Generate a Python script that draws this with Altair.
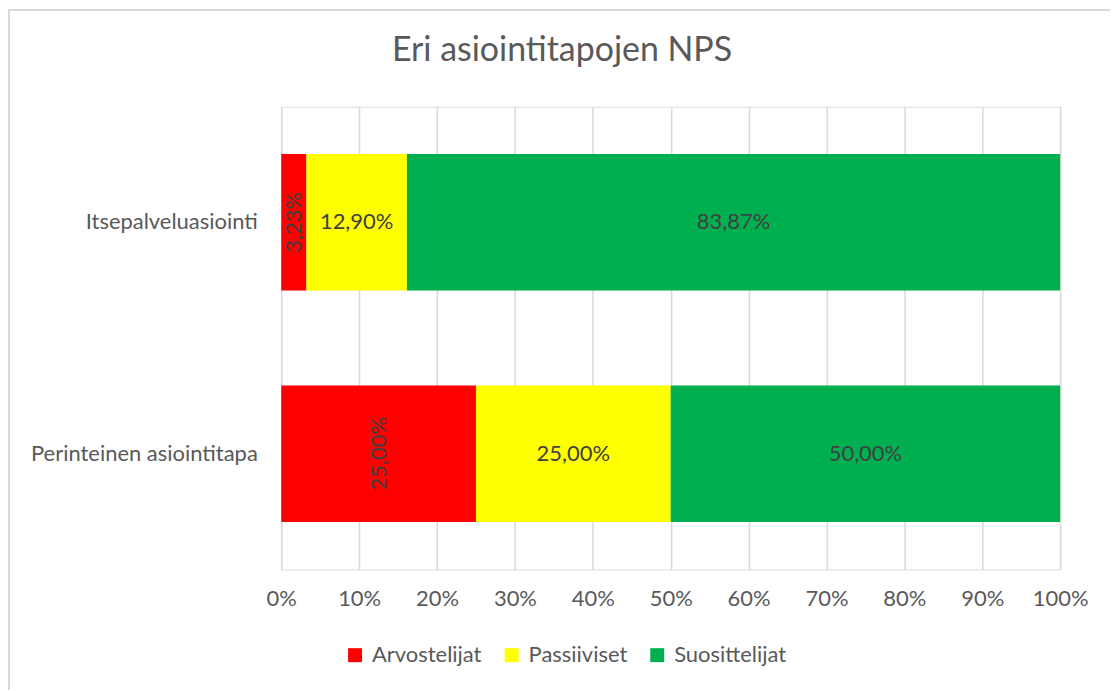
import altair as alt
import pandas as pd

categories = ["Itsepalveluasiointi", "Itsepalveluasiointi", "Itsepalveluasiointi",
              "Perinteinen asiointitapa", "Perinteinen asiointitapa", "Perinteinen asiointitapa"]
groups = ["Arvostelijat", "Passiiviset", "Suosittelijat",
          "Arvostelijat", "Passiiviset", "Suosittelijat"]
values = [3.23, 12.90, 83.87, 25.00, 25.00, 50.00]
order_idx = [0, 1, 2, 0, 1, 2]

group_names = ["Arvostelijat", "Passiiviset", "Suosittelijat"]
group_colors = ["#FF0000", "#FFFF00", "#00B050"]
cat_order = ["Itsepalveluasiointi", "Perinteinen asiointitapa"]

df = pd.DataFrame({"cat": categories, "grp": groups, "v": values, "o": order_idx})

FONT = "Lato"
GREY = "#595959"
FS = 22

base = alt.Chart(df).transform_window(
    cum="sum(v)", groupby=["cat"], sort=[alt.SortField("o")]
).transform_calculate(
    start="datum.cum - datum.v",
    mid="datum.cum - datum.v/2",
    lab="replace(format(datum.v, '.2f'), '.', ',') + '%'",
)

yenc = alt.Y("cat:N", sort=cat_order, title=None,
             scale=alt.Scale(paddingInner=0.41, paddingOuter=0.205),
             axis=alt.Axis(ticks=False, domain=False, labelFont=FONT, labelFontSize=FS,
                           labelColor=GREY, labelPadding=24, labelLimit=400, grid=False))

bars = base.mark_bar().encode(
    x=alt.X("start:Q", scale=alt.Scale(domain=[0, 100], nice=False), title=None,
            axis=alt.Axis(values=list(range(0, 101, 10)), labelExpr="datum.value + '%'",
                          ticks=False, domain=False, grid=True, gridColor="#D9D9D9",
                          gridWidth=1.5, labelFont=FONT, labelFontSize=FS,
                          labelColor=GREY, labelPadding=19, labelFlush=False)),
    x2="cum:Q",
    y=yenc,
    color=alt.Color("grp:N", scale=alt.Scale(domain=group_names, range=group_colors),
                    sort=group_names,
                    legend=alt.Legend(title=None, orient="none", direction="horizontal",
                                      legendX=63, legendY=539, symbolType="square",
                                      symbolSize=196, symbolStrokeWidth=0,
                                      labelFont=FONT, labelFontSize=FS, labelColor=GREY,
                                      columnPadding=19, labelOffset=6)),
)

text_h = base.transform_filter("datum.grp != 'Arvostelijat'").mark_text(
    font=FONT, fontSize=FS, color="#404040"
).encode(x="mid:Q", y=alt.Y("cat:N", sort=cat_order), text="lab:N")

text_v = base.transform_filter("datum.grp == 'Arvostelijat'").mark_text(
    font=FONT, fontSize=FS, color="#404040", angle=270
).encode(x="mid:Q", y=alt.Y("cat:N", sort=cat_order), text="lab:N")

border_left = alt.Chart(df).mark_rule(color="#D9D9D9", strokeWidth=2).encode(
    x=alt.value(-273), y=alt.value(-98), y2=alt.value(700))
border_top = alt.Chart(df).mark_rule(color="#D9D9D9", strokeWidth=2).encode(
    x=alt.value(-274), x2=alt.value(900), y=alt.value(-97))

chart = alt.layer(bars, text_h, text_v, border_left, border_top).properties(
    width=781, height=464,
    title=alt.TitleParams("Eri asiointitapojen NPS", font=FONT, fontSize=34,
                          fontWeight="normal", color=GREY, anchor="middle",
                          baseline="alphabetic", dx=-109, dy=87, offset=0),
    autosize=alt.AutoSizeParams(type="none"),
    padding={"left": 274, "top": 98, "right": 50, "bottom": 120},
).configure_view(stroke=None).configure(background="white")

chart.save("out.html", embed_options={"renderer": "svg", "actions": False})
